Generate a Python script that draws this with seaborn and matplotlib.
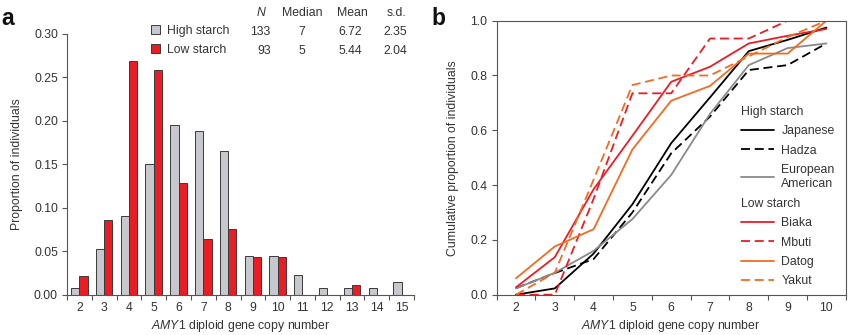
import numpy as np
import pandas as pd
import matplotlib
matplotlib.use("Agg")
import matplotlib.pyplot as plt
import seaborn as sns
from matplotlib.lines import Line2D
from matplotlib.patches import Patch

# ---------------- data ----------------
copy_numbers = [2, 3, 4, 5, 6, 7, 8, 9, 10, 11, 12, 13, 14, 15]
high_starch = [0.0075, 0.0526, 0.0902, 0.1504, 0.1955, 0.1880, 0.1654,
               0.0451, 0.0451, 0.0226, 0.0075, 0.0075, 0.0075, 0.0150]
low_starch = [0.0215, 0.0860, 0.2688, 0.2581, 0.1290, 0.0645, 0.0753,
              0.0430, 0.0430, 0.0, 0.0, 0.0108, 0.0, 0.0]

group_names = ["High starch", "Low starch"]
table_headers = ["N", "Median", "Mean", "s.d."]
n_values = ["133", "93"]
median_values = ["7", "5"]
mean_values = ["6.72", "5.44"]
sd_values = ["2.35", "2.04"]

cum_copy = [2, 3, 4, 5, 6, 7, 8, 9, 10]
japanese = [0.0, 0.023, 0.15, 0.33, 0.553, 0.72, 0.889, 0.93, 0.975]
hadza = [0.024, 0.079, 0.13, 0.30, 0.516, 0.65, 0.82, 0.838, 0.917]
european_american = [0.023, 0.08, 0.16, 0.276, 0.437, 0.66, 0.838, 0.90, 0.917]
biaka = [0.027, 0.137, 0.385, 0.58, 0.777, 0.832, 0.917, 0.945, 0.97]
mbuti = [0.0, 0.0, 0.35, 0.735, 0.735, 0.935, 0.935, 1.0, 1.0]
datog = [0.06, 0.176, 0.239, 0.53, 0.708, 0.762, 0.88, 0.88, 1.0]
yakut = [0.0, 0.08, 0.42, 0.765, 0.80, 0.80, 0.87, 0.94, 1.0]

high_pops = ["Japanese", "Hadza", "European\nAmerican"]
low_pops = ["Biaka", "Mbuti", "Datog", "Yakut"]

# ---------------- style ----------------
sns.set_theme(style="ticks")
plt.rcParams["font.family"] = ["Liberation Sans", "DejaVu Sans"]
plt.rcParams["mathtext.fontset"] = "custom"
plt.rcParams["mathtext.it"] = "Liberation Sans:italic"
plt.rcParams["mathtext.rm"] = "Liberation Sans"
TXT = "#333333"
SP = "#555555"
FS = 8.8

W, H = 850, 335
fig = plt.figure(figsize=(W / 100, H / 100), dpi=100)

def fx(x):
    return x / W

def fy(y):
    return 1 - y / H

ax1 = fig.add_axes([fx(67), fy(294.7), fx(414) - fx(67), fy(34) - fy(294.7)])
ax2 = fig.add_axes([fx(496.6), fy(294.7), fx(845.8) - fx(496.6), fy(20.7) - fy(294.7)])

# ---------------- panel a ----------------
df_a = pd.DataFrame({
    "copy": [str(c) for c in copy_numbers] * 2,
    "prop": high_starch + low_starch,
    "group": [group_names[0]] * len(copy_numbers) + [group_names[1]] * len(copy_numbers),
})
bar_colors = {group_names[0]: "#c6c8cd", group_names[1]: "#ec1c24"}
sns.barplot(data=df_a, x="copy", y="prop", hue="group", palette=bar_colors,
            order=[str(c) for c in copy_numbers], hue_order=group_names,
            width=0.67, gap=0, edgecolor="#3a3a3a", linewidth=0.7,
            saturation=1, legend=False, ax=ax1)
ax1.set_xlim(-0.5, len(copy_numbers) - 0.5)
ax1.set_ylim(0, 0.30)
ax1.set_yticks(np.arange(0, 0.301, 0.05))
ax1.set_yticklabels([f"{v:.2f}" for v in np.arange(0, 0.301, 0.05)])
ax1.set_xticks(np.arange(-0.5, len(copy_numbers), 1), minor=True)
ax1.tick_params(axis="x", which="major", length=0, pad=5, labelsize=FS, labelcolor=TXT)
ax1.tick_params(axis="x", which="minor", length=3.5, width=0.8, color=SP)
ax1.tick_params(axis="y", length=3.5, width=0.8, color=SP, labelsize=FS, labelcolor=TXT, pad=3)
for s in ["top", "right"]:
    ax1.spines[s].set_visible(False)
for s in ["left", "bottom"]:
    ax1.spines[s].set_color(SP)
    ax1.spines[s].set_linewidth(0.8)
ax1.set_xlabel(r"$\mathit{AMY1}$ diploid gene copy number", fontsize=FS, color=TXT, labelpad=3)
ax1.set_ylabel("Proportion of individuals", fontsize=FS, color=TXT, labelpad=8)

# legend / table of panel a
leg_a = ax1.legend(handles=[Patch(facecolor=bar_colors[g], edgecolor="#3a3a3a", linewidth=0.7)
                            for g in group_names],
                   labels=group_names, loc="upper left",
                   bbox_to_anchor=(fx(151), fy(25)), bbox_transform=fig.transFigure,
                   frameon=False, fontsize=FS, handlelength=0.75, handleheight=0.75,
                   handletextpad=0.55, labelspacing=0.55, borderpad=0, borderaxespad=0,
                   labelcolor=TXT)
header_x = [261, 302, 352, 396.5]
for hx, h in zip(header_x, table_headers):
    fig.text(fx(hx), fy(13), h, ha="center", va="center", fontsize=FS, color=TXT,
             style="italic" if h == "N" else "normal")
row_y = [32, 51]
for i, ry in enumerate(row_y):
    fig.text(fx(270.7), fy(ry), n_values[i], ha="right", va="center", fontsize=FS, color=TXT)
    fig.text(fx(302), fy(ry), median_values[i], ha="center", va="center", fontsize=FS, color=TXT)
    fig.text(fx(350.5), fy(ry), mean_values[i], ha="center", va="center", fontsize=FS, color=TXT)
    fig.text(fx(395.5), fy(ry), sd_values[i], ha="center", va="center", fontsize=FS, color=TXT)

# ---------------- panel b ----------------
pop_series = {
    "Japanese": japanese, "Hadza": hadza, "European\nAmerican": european_american,
    "Biaka": biaka, "Mbuti": mbuti, "Datog": datog, "Yakut": yakut,
}
rows = []
for pop, vals in pop_series.items():
    for c, v in zip(cum_copy, vals):
        rows.append({"copy": c, "cum": v, "pop": pop})
df_b = pd.DataFrame(rows)

line_colors = {"Japanese": "#000000", "Hadza": "#000000", "European\nAmerican": "#8a8a8a",
               "Biaka": "#ed1c24", "Mbuti": "#ed1c24", "Datog": "#f36b21", "Yakut": "#f36b21"}
DASH = (5, 2.6)
line_dashes = {"Japanese": "", "Hadza": DASH, "European\nAmerican": "",
               "Biaka": "", "Mbuti": DASH, "Datog": "", "Yakut": DASH}
LW = 1.3
sns.lineplot(data=df_b, x="copy", y="cum", hue="pop", style="pop",
             hue_order=list(pop_series), style_order=list(pop_series),
             palette=line_colors, dashes=line_dashes, linewidth=LW,
             legend=False, ax=ax2)
ax2.set_xlim(1.5, 10.5)
ax2.set_ylim(0, 1.0)
ax2.set_xticks(cum_copy)
ax2.set_xticks(np.arange(1.5, 10.6, 1), minor=True)
ax2.set_yticks(np.arange(0, 1.01, 0.2))
ax2.set_yticklabels([f"{v:.1f}" for v in np.arange(0, 1.01, 0.2)])
ax2.tick_params(axis="x", which="major", length=0, pad=5, labelsize=FS, labelcolor=TXT)
ax2.tick_params(axis="x", which="minor", length=3.5, width=0.8, color=SP)
ax2.tick_params(axis="y", length=3.5, width=0.8, color=SP, labelsize=FS, labelcolor=TXT, pad=3)
for s in ax2.spines.values():
    s.set_color(SP)
    s.set_linewidth(0.8)
ax2.set_xlabel(r"$\mathit{AMY1}$ diploid gene copy number", fontsize=FS, color=TXT, labelpad=3)
ax2.set_ylabel("Cumulative proportion of individuals", fontsize=FS, color=TXT, labelpad=8)

def make_handles(pops):
    hs = []
    for p in pops:
        ls = (0, DASH) if line_dashes[p] else "-"
        hs.append(Line2D([0], [0], color=line_colors[p], lw=LW, linestyle=ls))
    return hs

common = dict(frameon=False, fontsize=FS, title_fontsize=FS, handlelength=2.7,
              handletextpad=0.6, labelspacing=0.6, borderpad=0, borderaxespad=0,
              alignment="left", loc="upper left", bbox_transform=fig.transFigure,
              labelcolor=TXT)
leg1 = ax2.legend(handles=make_handles(high_pops), labels=high_pops, title="High starch",
                  bbox_to_anchor=(fx(741), fy(106)), **common)
leg1.get_title().set_color(TXT)
ax2.add_artist(leg1)
leg2 = ax2.legend(handles=make_handles(low_pops), labels=low_pops, title="Low starch",
                  bbox_to_anchor=(fx(741), fy(198)), **common)
leg2.get_title().set_color(TXT)

# panel labels
fig.text(fx(1), fy(25), "a", fontsize=16.5, fontweight="bold", ha="left", va="baseline", color="#111111")
fig.text(fx(431), fy(25), "b", fontsize=16.5, fontweight="bold", ha="left", va="baseline", color="#111111")

fig.savefig("out.png", dpi=100)
